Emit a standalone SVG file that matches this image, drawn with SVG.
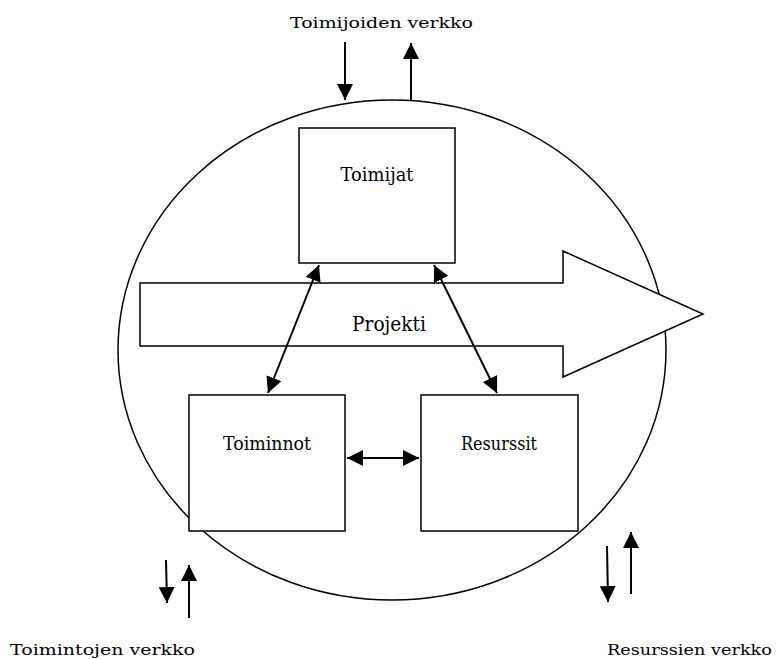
<svg xmlns="http://www.w3.org/2000/svg" width="782" height="659" viewBox="0 0 782 659">
  <style>
    .line { fill: none; stroke: #000; stroke-width: 2; }
    .box { fill: #fff; stroke: #000; stroke-width: 1.5; }
    .outline { fill: none; stroke: #000; stroke-width: 1.5; }
    .label { fill: #000; font-family: "DejaVu Serif", "Liberation Serif", serif; }
    .node { text-anchor: middle; }
  </style>
  <defs>
    <marker id="bighead" viewBox="0 0 10 10" refX="10" refY="5" markerWidth="8" markerHeight="8" markerUnits="strokeWidth" orient="auto-start-reverse">
      <path d="M0,0 L10,5 L0,10 z" fill="#000"/>
    </marker>
  </defs>

  <!-- network boundary -->
  <ellipse id="network" class="outline" cx="392" cy="350" rx="274" ry="250"/>

  <!-- project arrow, painted over the boundary -->
  <g id="projekti">
    <path class="box" d="M140,283 H563 V251 L703,314 L563,377 V346 H140 Z"/>
    <text class="label node" x="389" y="331" font-size="21" textLength="74" lengthAdjust="spacingAndGlyphs">Projekti</text>
  </g>

  <g id="toimijat">
    <rect class="box" x="299" y="128" width="156" height="135"/>
    <text class="label node" x="377" y="181" font-size="18" textLength="73" lengthAdjust="spacingAndGlyphs">Toimijat</text>
  </g>

  <g id="toiminnot">
    <rect class="box" x="189" y="395" width="156" height="136"/>
    <text class="label node" x="267" y="450" font-size="18" textLength="88" lengthAdjust="spacingAndGlyphs">Toiminnot</text>
  </g>

  <g id="resurssit">
    <rect class="box" x="421" y="395" width="157" height="136"/>
    <text class="label node" x="499" y="450" font-size="18" textLength="76" lengthAdjust="spacingAndGlyphs">Resurssit</text>
  </g>

  <!-- connectors -->
  <g id="connectors">
    <line class="line" x1="319" y1="265" x2="268" y2="393" marker-start="url(#bighead)" marker-end="url(#bighead)"/>
    <line class="line" x1="434" y1="265" x2="497" y2="393" marker-start="url(#bighead)" marker-end="url(#bighead)"/>
    <line class="line" x1="347" y1="458" x2="419" y2="458" marker-start="url(#bighead)" marker-end="url(#bighead)"/>

    <!-- exchanges with the surrounding networks -->
    <line class="line" x1="345" y1="42" x2="345" y2="100" marker-end="url(#bighead)"/>
    <line class="line" x1="411" y1="100" x2="411" y2="43" marker-end="url(#bighead)"/>

    <line class="line" x1="166" y1="560" x2="167" y2="603" marker-end="url(#bighead)"/>
    <line class="line" x1="189" y1="618" x2="189" y2="565" marker-end="url(#bighead)"/>

    <line class="line" x1="607" y1="546" x2="608" y2="602" marker-end="url(#bighead)"/>
    <line class="line" x1="631" y1="594" x2="631" y2="532" marker-end="url(#bighead)"/>
  </g>

  <g id="labels" font-size="15">
    <text class="label" x="290" y="28" textLength="183" lengthAdjust="spacingAndGlyphs">Toimijoiden verkko</text>
    <text class="label" x="10" y="655" textLength="185" lengthAdjust="spacingAndGlyphs">Toimintojen verkko</text>
    <text class="label" x="607" y="655" textLength="165" lengthAdjust="spacingAndGlyphs">Resurssien verkko</text>
  </g>
</svg>
